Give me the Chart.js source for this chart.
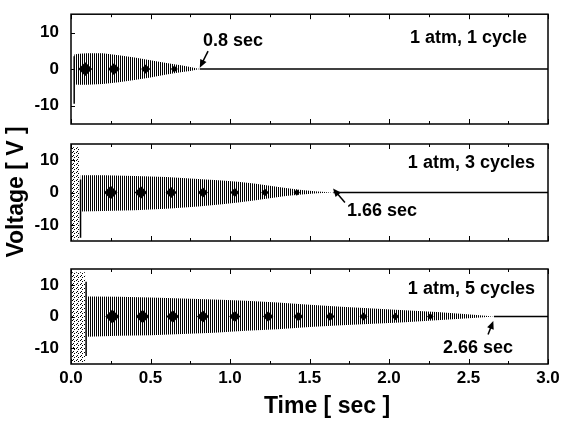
<!DOCTYPE html>
<html>
<head>
<meta charset="utf-8">
<title>Voltage vs time</title>
<script src="https://cdn.jsdelivr.net/npm/chart.js@4.4.1/dist/chart.umd.min.js"></script>
<style>
  html, body { margin: 0; padding: 0; background: #fff; }
  #wrap { position: relative; width: 562px; height: 421px; }
  #wrap canvas { position: absolute; left: 0; top: 0; }
</style>
</head>
<body>
<div id="wrap">
  <canvas id="p1" width="562" height="421"></canvas>
  <canvas id="p2" width="562" height="421"></canvas>
  <canvas id="p3" width="562" height="421"></canvas>
</div>
<script>
// axis ticks
var timeTicks = [0.0, 0.5, 1.0, 1.5, 2.0, 2.5, 3.0];
var timeMinorTicks = [0.25, 0.75, 1.25, 1.75, 2.25, 2.75];
var voltTicks = [-10, 0, 10];

// 1 atm, 1 cycle - envelope of the ringing signal (sec, V)
var t1 = [0.02, 0.05, 0.1, 0.2, 0.3, 0.4, 0.5, 0.6, 0.7, 0.75, 0.81];
var up1 = [4.0, 4.2, 4.3, 4.3, 3.8, 3.2, 2.4, 1.7, 1.0, 0.6, 0];
var lo1 = [-4.2, -4.3, -4.3, -4.1, -3.6, -3.0, -2.3, -1.5, -0.8, -0.5, 0];
var beats1 = [0.09, 0.27, 0.47, 0.65];
var spikeT1 = [0.02, 0.02];
var spikeV1 = [3.5, -9.5];

// 1 atm, 3 cycles
var t2 = [0.06, 0.2, 0.4, 0.6, 0.8, 0.95, 1.05, 1.15, 1.25, 1.35, 1.45, 1.55, 1.65];
var up2 = [5.3, 5.3, 5.1, 4.8, 4.2, 3.7, 3.3, 2.8, 2.1, 1.4, 0.8, 0.3, 0];
var lo2 = [-5.9, -5.7, -5.5, -5.0, -4.3, -3.6, -3.1, -2.5, -1.8, -1.1, -0.6, -0.2, 0];
var beats2 = [0.25, 0.44, 0.63, 0.83, 1.03, 1.22, 1.42];
var noiseT2 = [0.0, 0.055];
var noiseUp2 = [14, 14];
var noiseLo2 = [-14.5, -14.5];
var spikeT2 = [0.06, 0.06];
var spikeV2 = [4, -14];

// 1 atm, 5 cycles
var t3 = [0.1, 0.3, 0.5, 0.7, 0.9, 1.1, 1.3, 1.5, 1.7, 1.9, 2.1, 2.3, 2.45, 2.55, 2.66];
var up3 = [6.3, 6.2, 6.0, 5.7, 5.4, 5.0, 4.4, 3.7, 3.1, 2.5, 2.0, 1.4, 0.9, 0.5, 0];
var lo3 = [-6.4, -6.1, -5.9, -5.5, -5.1, -4.5, -4.0, -3.3, -2.8, -2.3, -1.8, -1.2, -0.7, -0.4, 0];
var beats3 = [0.26, 0.45, 0.64, 0.83, 1.03, 1.24, 1.43, 1.63, 1.84, 2.04, 2.26];
var noiseT3 = [0.0, 0.09];
var noiseUp3 = [14, 14];
var noiseLo3 = [-14.5, -14.5];
var spikeT3 = [0.095, 0.095];
var spikeV3 = [11, -12.5];

var FONT = '"Liberation Sans", Arial, Helvetica, sans-serif';

function makePattern(w, h, pixels) {
    var c = document.createElement('canvas');
    c.width = w;
    c.height = h;
    var g = c.getContext('2d');
    g.fillStyle = '#000';
    pixels.forEach(function(p) { g.fillRect(p[0], p[1], 1, 1); });
    return g.createPattern(c, 'repeat');
}

var stripes = makePattern(2, 1, [[0, 0]]);
var speckle = makePattern(4, 4, [[0, 0], [2, 1], [1, 3]]);

function pts(xs, ys) {
    return xs.map(function(x, i) { return { x: x, y: ys[i] }; });
}

function buildDatasets(p) {
    var tEnd = p.t[p.t.length - 1];
    var sets = [];
    if (p.noiseT) {
        sets.push({ data: pts(p.noiseT, p.noiseUp), borderWidth: 0, pointRadius: 0, fill: '+1', backgroundColor: speckle });
        sets.push({ data: pts(p.noiseT, p.noiseLo), borderWidth: 0, pointRadius: 0, fill: false });
    }
    sets.push({ data: pts(p.t, p.up), borderWidth: 0, pointRadius: 0, fill: '+1', backgroundColor: stripes });
    sets.push({ data: pts(p.t, p.lo), borderWidth: 0, pointRadius: 0, fill: false });
    // dark beat nodes in the middle of the trace
    sets.push({
        data: p.beats.map(function(b) { return { x: b, y: 0 }; }),
        showLine: false,
        pointStyle: 'rectRot',
        pointRadius: function(c) { return 2.5 + 5 * (1 - c.raw.x / tEnd); },
        pointBackgroundColor: '#000',
        pointBorderWidth: 0
    });
    sets.push({ data: pts(p.spikeT, p.spikeV), borderColor: '#000', borderWidth: 1.5, pointRadius: 0, fill: false });
    // signal has died out: flat line to the end of the window
    sets.push({ data: [{ x: tEnd, y: 0 }, { x: 3.0, y: 0 }], borderColor: '#000', borderWidth: 1.5, pointRadius: 0, fill: false });
    return sets;
}

function drawArrow(ctx, x0, y0, x1, y1) {
    var ang = Math.atan2(y1 - y0, x1 - x0);
    var len = 8, half = 3.5;
    ctx.beginPath();
    ctx.moveTo(x0, y0);
    ctx.lineTo(x1 - Math.cos(ang) * len * 0.8, y1 - Math.sin(ang) * len * 0.8);
    ctx.lineWidth = 1.5;
    ctx.stroke();
    ctx.beginPath();
    ctx.moveTo(x1, y1);
    ctx.lineTo(x1 - Math.cos(ang) * len - Math.sin(ang) * half, y1 - Math.sin(ang) * len + Math.cos(ang) * half);
    ctx.lineTo(x1 - Math.cos(ang) * len + Math.sin(ang) * half, y1 - Math.sin(ang) * len - Math.cos(ang) * half);
    ctx.closePath();
    ctx.fill();
}

var panelDecor = {
    id: 'panelDecor',
    afterDatasetsDraw: function(chart, args, opts) {
        var ctx = chart.ctx, a = chart.chartArea;
        var xs = chart.scales.x, ys = chart.scales.y;
        ctx.save();
        ctx.strokeStyle = '#000';
        ctx.fillStyle = '#000';

        // frame
        ctx.lineWidth = 1.5;
        ctx.strokeRect(a.left, a.top, a.right - a.left, a.bottom - a.top);

        // inward tick marks
        ctx.lineWidth = 1;
        ctx.beginPath();
        timeTicks.concat(timeMinorTicks).forEach(function(t) {
            var px = Math.round(xs.getPixelForValue(t)) + 0.5;
            var l = timeMinorTicks.indexOf(t) >= 0 ? 3 : 5;
            ctx.moveTo(px, a.top);
            ctx.lineTo(px, a.top + l);
            ctx.moveTo(px, a.bottom);
            ctx.lineTo(px, a.bottom - l);
        });
        voltTicks.forEach(function(v) {
            var py = Math.round(ys.getPixelForValue(v)) + 0.5;
            ctx.moveTo(a.left, py);
            ctx.lineTo(a.left + 4, py);
        });
        ctx.stroke();

        // notes and arrows
        ctx.font = 'bold 18px ' + FONT;
        ctx.textBaseline = 'middle';
        (opts.notes || []).forEach(function(n) {
            ctx.textAlign = n.align;
            ctx.fillText(n.text, xs.getPixelForValue(n.t), ys.getPixelForValue(n.v));
        });
        (opts.arrows || []).forEach(function(r) {
            drawArrow(ctx, xs.getPixelForValue(r[0]), ys.getPixelForValue(r[1]),
                xs.getPixelForValue(r[2]), ys.getPixelForValue(r[3]));
        });

        // time labels and axis titles, only under the bottom panel
        if (opts.titles) {
            ctx.font = 'bold 17px ' + FONT;
            ctx.textAlign = 'center';
            timeTicks.forEach(function(t) {
                ctx.fillText(t.toFixed(1), xs.getPixelForValue(t), a.bottom + 14);
            });
            ctx.font = 'bold 23px ' + FONT;
            ctx.fillText('Time [ sec ]', 327, 407);
            ctx.translate(17, 192);
            ctx.rotate(-Math.PI / 2);
            ctx.fillText('Voltage [ V ]', 0, 0);
        }
        ctx.restore();
    }
};

function makePanel(id, p) {
    new Chart(document.getElementById(id), {
        type: 'line',
        data: { datasets: buildDatasets(p) },
        options: {
            responsive: false,
            animation: false,
            events: [],
            layout: { padding: { left: 0, right: 14, top: p.top, bottom: 421 - p.bottom } },
            plugins: {
                legend: { display: false },
                tooltip: { enabled: false },
                panelDecor: { notes: p.notes, arrows: p.arrows, titles: p.titles }
            },
            scales: {
                x: {
                    type: 'linear',
                    min: 0,
                    max: 3,
                    afterFit: function(s) { s.height = 0; },
                    afterBuildTicks: function(s) { s.ticks = timeTicks.map(function(v) { return { value: v }; }); },
                    grid: { display: false },
                    border: { display: false },
                    ticks: { display: false }
                },
                y: {
                    min: -15,
                    max: 15,
                    afterFit: function(s) { s.width = 71; },
                    afterBuildTicks: function(s) { s.ticks = voltTicks.map(function(v) { return { value: v }; }); },
                    grid: { display: false },
                    border: { display: false },
                    ticks: {
                        padding: 4,
                        color: '#000',
                        font: { family: FONT, size: 17, weight: 'bold' },
                        callback: function(v) { return String(v); }
                    }
                }
            }
        },
        plugins: [panelDecor]
    });
}

makePanel('p1', {
    top: 8, bottom: 124,
    t: t1, up: up1, lo: lo1, beats: beats1,
    spikeT: spikeT1, spikeV: spikeV1,
    notes: [
        { text: '1 atm, 1 cycle', t: 2.868, v: 8.5, align: 'right' },
        { text: '0.8 sec', t: 0.83, v: 7.8, align: 'left' }
    ],
    arrows: [[0.862, 4.9, 0.81, 0.4]]
});

makePanel('p2', {
    top: 144, bottom: 241,
    t: t2, up: up2, lo: lo2, beats: beats2,
    noiseT: noiseT2, noiseUp: noiseUp2, noiseLo: noiseLo2,
    spikeT: spikeT2, spikeV: spikeV2,
    notes: [
        { text: '1 atm, 3 cycles', t: 2.918, v: 9, align: 'right' },
        { text: '1.66 sec', t: 1.736, v: -5.6, align: 'left' }
    ],
    arrows: [[1.723, -3.1, 1.648, 1.2]]
});

makePanel('p3', {
    top: 269, bottom: 364, titles: true,
    t: t3, up: up3, lo: lo3, beats: beats3,
    noiseT: noiseT3, noiseUp: noiseUp3, noiseLo: noiseLo3,
    spikeT: spikeT3, spikeV: spikeV3,
    notes: [
        { text: '1 atm, 5 cycles', t: 2.918, v: 8.8, align: 'right' },
        { text: '2.66 sec', t: 2.34, v: -9.8, align: 'left' }
    ],
    arrows: [[2.623, -5.7, 2.656, -1.4]]
});
</script>
</body>
</html>
